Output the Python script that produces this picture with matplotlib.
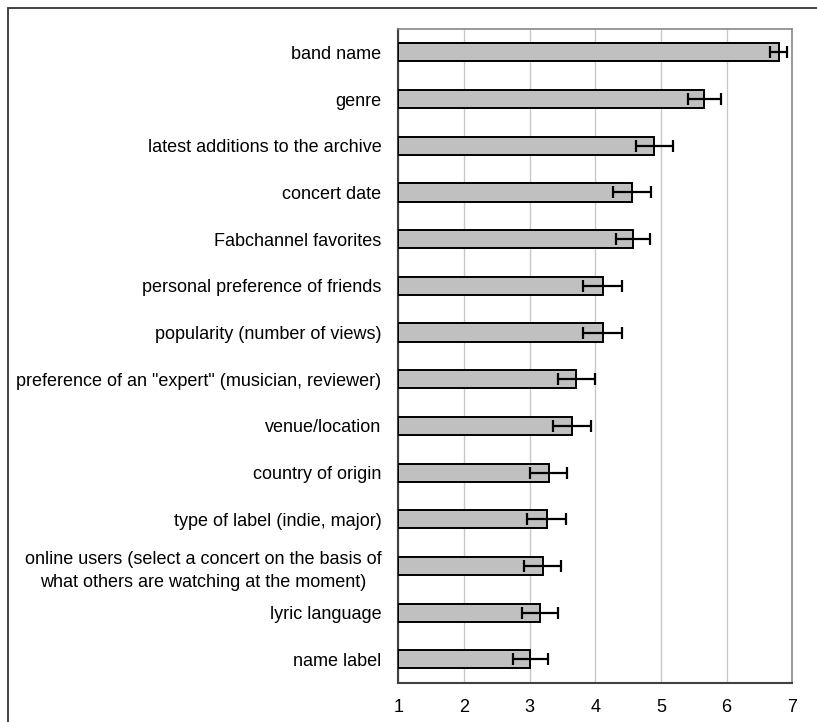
import numpy as np
import matplotlib.pyplot as plt
from matplotlib.patches import Rectangle

plt.rcParams['font.family'] = ['Liberation Sans', 'DejaVu Sans']

# criteria for choosing a concert, mean rating and error
criteria = ['band name', 'genre', 'latest additions to the archive', 'concert date',
            'Fabchannel favorites', 'personal preference of friends',
            'popularity (number of views)',
            'preference of an "expert" (musician, reviewer)', 'venue/location',
            'country of origin', 'type of label (indie, major)',
            'online users (select a concert on the basis of\nwhat others are watching at the moment)',
            'lyric language', 'name label']
means = [6.79, 5.66, 4.90, 4.56, 4.57, 4.11, 4.11, 3.71, 3.65, 3.29, 3.26, 3.20, 3.16, 3.01]
errors = [0.13, 0.25, 0.28, 0.29, 0.26, 0.29, 0.29, 0.28, 0.29, 0.28, 0.30, 0.28, 0.27, 0.27]
xticks = [1, 2, 3, 4, 5, 6, 7]

fig = plt.figure(figsize=(8.17, 7.22), dpi=100)
ax = fig.add_axes([0.4875, 0.0544, 0.4823, 0.9054])

pos = np.arange(len(criteria))
base = xticks[0]
ax.barh(pos, np.array(means) - base, left=base, height=0.39, color='#c0c0c0',
        edgecolor='black', linewidth=1.4, zorder=3)
ax.errorbar(means, pos, xerr=errors, fmt='none', ecolor='black', elinewidth=1.6,
            capsize=4, capthick=1.6, zorder=4)

ax.set_xlim(xticks[0], xticks[-1])
ax.set_ylim(len(criteria) - 0.5, -0.5)
ax.set_xticks(xticks)
ax.set_yticks(pos)
ax.set_yticklabels(criteria, multialignment='center', linespacing=1.45)
ax.tick_params(axis='both', length=0, labelsize=13, colors='black')
ax.tick_params(axis='x', pad=12)
ax.tick_params(axis='y', pad=12)

ax.grid(axis='x', color='#c8c8c8', linewidth=1, zorder=0)
ax.set_axisbelow(True)
for side in ['top', 'right']:
    ax.spines[side].set_color('#888888')
    ax.spines[side].set_linewidth(1.2)
for side in ['left', 'bottom']:
    ax.spines[side].set_color('#404040')
    ax.spines[side].set_linewidth(1.5)

# frame around the whole chart
fig.patches.append(Rectangle((8 / 817, -0.1), 1.2, 1.1 - 8 / 722, transform=fig.transFigure,
                             fill=False, edgecolor='#333333', linewidth=1.3))

fig.savefig('out.png', dpi=100)
